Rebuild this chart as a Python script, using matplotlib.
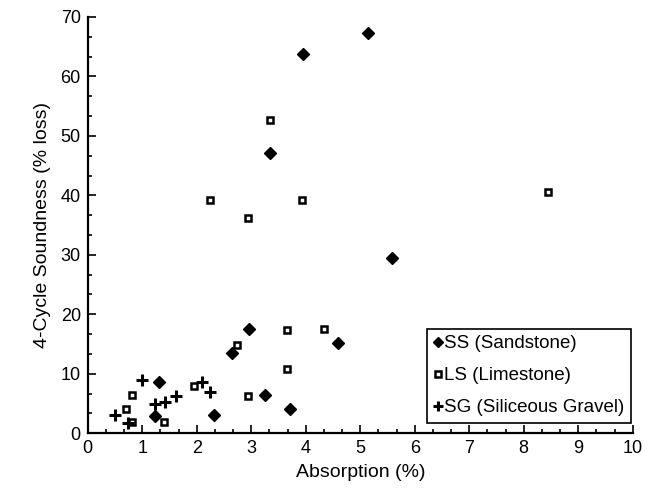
import numpy as np
import matplotlib
matplotlib.rcParams['font.family'] = ['Liberation Sans', 'DejaVu Sans']
matplotlib.rcParams['xtick.direction'] = 'in'
matplotlib.rcParams['ytick.direction'] = 'in'
import matplotlib.pyplot as plt
from matplotlib.ticker import MultipleLocator

# SS (Sandstone)
ss_x = [3.95, 5.15, 3.35, 5.58, 2.95, 4.60, 2.65, 3.25, 3.72, 2.32, 1.30, 1.24]
ss_y = [63.8, 67.3, 47.1, 29.5, 17.6, 15.2, 13.5, 6.4, 4.1, 3.0, 8.6, 2.9]

# LS (Limestone)
ls_x = [3.35, 2.24, 3.94, 2.94, 8.45, 3.65, 4.33, 2.73, 3.65, 2.94, 1.95, 0.81, 0.71, 0.82, 1.40]
ls_y = [52.7, 39.3, 39.3, 36.2, 40.5, 17.4, 17.6, 14.8, 10.8, 6.2, 8.0, 6.5, 4.0, 1.9, 1.9]

# SG (Siliceous Gravel)
sg_x = [1.00, 2.10, 2.25, 0.50, 0.74, 1.24, 1.42, 1.62]
sg_y = [9.0, 8.6, 6.9, 3.1, 1.8, 5.0, 5.2, 6.2]

fig = plt.figure(figsize=(6.55, 4.98), dpi=100)
ax = fig.add_axes([0.134, 0.130, 0.832, 0.836])

ax.plot(ss_x, ss_y, 'D', markersize=5.8, color='black', linestyle='none',
        label='SS (Sandstone)')
ax.plot(ls_x, ls_y, 's', markersize=5, markerfacecolor='white', markeredgecolor='black',
        markeredgewidth=1.8, linestyle='none', label='LS (Limestone)')
ax.plot(sg_x, sg_y, '+', markersize=9, markeredgewidth=2.2, color='black',
        linestyle='none', label='SG (Siliceous Gravel)')

ax.set_xlim(0, 10)
ax.set_ylim(0, 70)
ax.xaxis.set_major_locator(MultipleLocator(1))
ax.xaxis.set_minor_locator(MultipleLocator(1/3))
ax.yaxis.set_major_locator(MultipleLocator(10))
ax.yaxis.set_minor_locator(MultipleLocator(10/3))
ax.tick_params(which='major', length=6, width=1.2, labelsize=13, pad=5)
ax.tick_params(which='minor', length=3, width=1.2)

for side in ['top', 'right']:
    ax.spines[side].set_visible(False)
for side in ['left', 'bottom']:
    ax.spines[side].set_linewidth(1.6)

ax.set_xlabel('Absorption (%)', fontsize=14, labelpad=5)
ax.set_ylabel('4-Cycle Soundness (% loss)', fontsize=14, labelpad=7)

leg = ax.legend(loc='lower right', bbox_to_anchor=(1.0, 0.02), fontsize=13.5,
                handlelength=0.45, handletextpad=0.12, borderpad=0.35,
                labelspacing=0.8, fancybox=False, framealpha=1,
                edgecolor='black', borderaxespad=0.1, markerscale=0.8)
leg.get_frame().set_linewidth(1.2)

plt.savefig('out.png', dpi=100)
